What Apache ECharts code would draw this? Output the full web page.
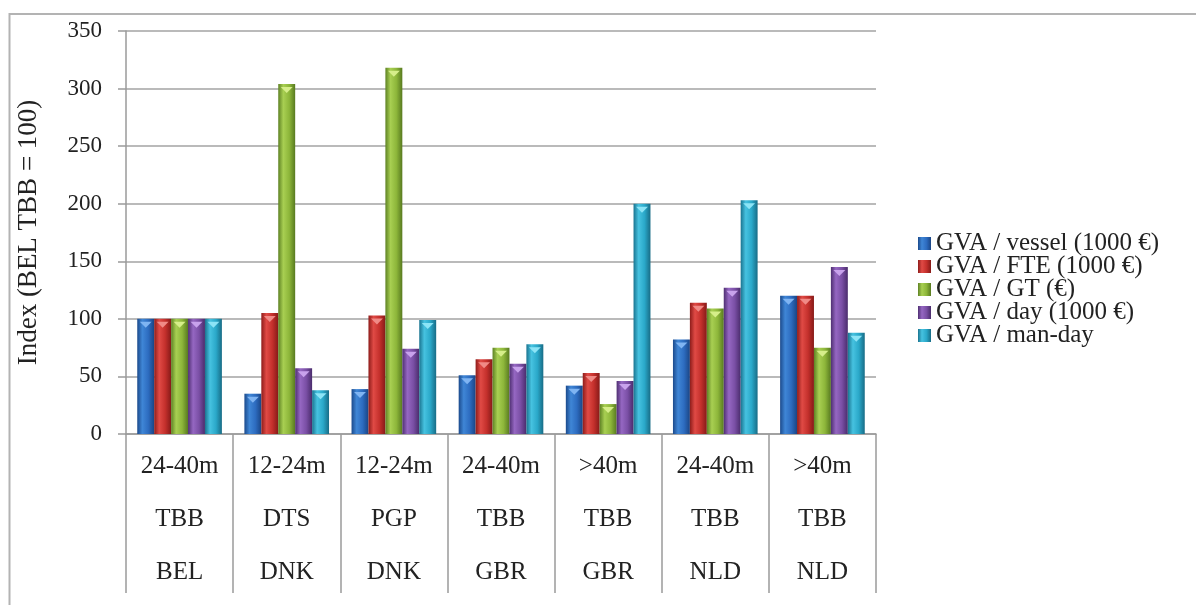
<!DOCTYPE html>
<html>
<head>
<meta charset="utf-8">
<script src="https://cdn.jsdelivr.net/npm/echarts@6/dist/echarts.min.js"></script>
<style>html,body{margin:0;padding:0;background:#fff}#c{width:1196px;height:605px}</style>
</head>
<body>
<div id="c"></div>
<script>
const sizeClass = ['24-40m','12-24m','12-24m','24-40m','>40m','24-40m','>40m'];
const gear = ['TBB','DTS','PGP','TBB','TBB','TBB','TBB'];
const country = ['BEL','DNK','DNK','GBR','GBR','NLD','NLD'];
const seriesNames = ['GVA / vessel (1000 €)','GVA / FTE (1000 €)','GVA / GT (€)','GVA / day (1000 €)','GVA / man-day'];
const gvaVessel = [100, 35, 39, 51, 42, 82, 120];
const gvaFTE    = [100, 105, 103, 65, 53, 114, 120];
const gvaGT     = [100, 304, 318, 75, 26, 109, 75];
const gvaDay    = [100, 57, 74, 61, 46, 127, 145];
const gvaManDay = [100, 38, 99, 78, 200, 203, 88];
const yTicks = [0, 50, 100, 150, 200, 250, 300, 350];

const values = [gvaVessel, gvaFTE, gvaGT, gvaDay, gvaManDay];
const palettes = [
  ['#1b4a8c','#3f86d6','#2d6cc0','#1a4585'],
  ['#8e1c1a','#e04a45','#c4302c','#861a18'],
  ['#5e8224','#a8cf52','#8db63a','#587a20'],
  ['#4f2f72','#9567c2','#7a4fa5','#4a2c6c'],
  ['#1a7490','#46c2e0','#2aa8c9','#186c86']
];
const tipColors = ['#7fb4f2','#f08a86','#d6ee8a','#c8a2ec','#8ce4f6'];
const categories = sizeClass.map((s,i)=> s + '\n' + gear[i] + '\n' + country[i]);

const FONT = 'Liberation Serif';
const series = [];
values.forEach((v, i) => {
  const p = palettes[i];
  series.push({
    name: seriesNames[i], type: 'bar', data: v,
    barGap: '0%', barCategoryGap: '21%',
    itemStyle: {
      color: {type:'linear', x:0, y:0, x2:1, y2:0, colorStops:[
        {offset:0, color:p[0]},{offset:0.3, color:p[1]},{offset:0.65, color:p[2]},{offset:1, color:p[3]}]}
    },
    z: 2
  });
});
values.forEach((v, i) => {
  series.push({
    name: 'tip' + i, type: 'pictorialBar', data: v,
    barGap: '0%', barCategoryGap: '21%',
    symbol: 'path://M0,0 L10,0 L5,6 Z',
    symbolSize: ['70%', 6],
    symbolPosition: 'end',
    symbolOffset: [0, '50%'],
    itemStyle: {color: tipColors[i]},
    z: 3, silent: true
  });
});

const chart = echarts.init(document.getElementById('c'));
chart.setOption({
  animation: false,
  backgroundColor: '#fff',
  textStyle: {fontFamily: FONT},
  graphic: [{type:'rect', shape:{x:9.5, y:14, width:1400, height:800}, style:{fill:'none', stroke:'#b3b3b3', lineWidth:2}, z:-1}],
  grid: {left: 126, right: 320, top: 31, bottom: 171, containLabel: false},
  legend: {
    orient: 'vertical', left: 913, top: 226,
    data: seriesNames,
    icon: 'rect', itemWidth: 13, itemHeight: 13, itemGap: -2,
    textStyle: {fontFamily: FONT, fontSize: 25, color: '#222'}
  },
  xAxis: {
    type: 'category', data: categories,
    axisLine: {lineStyle: {color: '#9a9a9a', width: 1.5}},
    axisTick: {show: true, interval: 0, length: 159, lineStyle: {color: '#9a9a9a', width: 1.5}},
    axisLabel: {interval: 0, margin: 6, fontFamily: FONT, fontSize: 25, color: '#222', lineHeight: 53}
  },
  yAxis: {
    type: 'value', min: 0, max: 350, interval: 50,
    name: 'Index (BEL TBB = 100)', nameLocation: 'middle', nameGap: 84, nameRotate: 90,
    nameTextStyle: {fontFamily: FONT, fontSize: 27, color: '#222'},
    axisLine: {show: true, lineStyle: {color: '#9a9a9a', width: 1.5}},
    axisTick: {show: true, length: 8, lineStyle: {color: '#9a9a9a', width: 1.5}},
    axisLabel: {margin: 24, fontFamily: FONT, fontSize: 23, color: '#222',
      formatter: v => yTicks.indexOf(v) >= 0 ? String(v) : ''},
    splitLine: {show: true, lineStyle: {color: '#a3a3a3', width: 1.5}}
  },
  series: series
});
</script>
</body>
</html>
